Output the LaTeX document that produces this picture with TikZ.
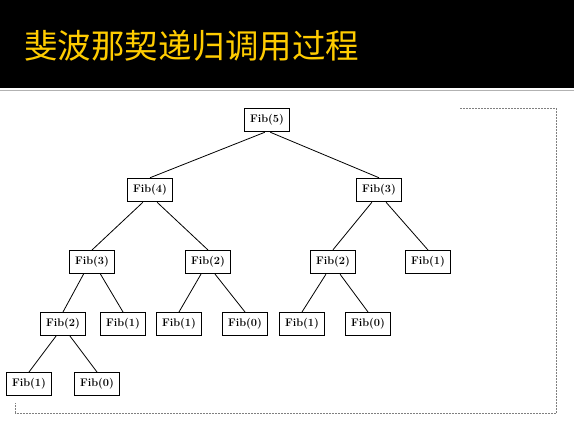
\documentclass[tikz,border=0pt]{standalone}
\usepackage{xcolor}
\usepackage{fontspec}
\usepackage{tikz}
\usetikzlibrary{positioning}
\newfontfamily\cjk{Noto Sans CJK SC}
\definecolor{titlegold}{RGB}{255,204,0}
\definecolor{framegray}{RGB}{128,128,128}

\begin{document}
\begin{tikzpicture}[x=1pt, y=-1pt,
  fib/.style={draw, line width=1pt, minimum width=45pt, minimum height=23pt, inner sep=1pt, font=\fontsize{11}{13}\selectfont\bfseries},
  top/.style={fib, line width=1.5pt},
  call/.style={line width=0.8pt}]
  \useasboundingbox (0,0) rectangle (574,425);
  \fill[black] (0,0) rectangle (574,88);
  \draw[color=gray!60, line width=1.5pt] (0,90.5) -- (574,90.5);
  \node[anchor=west, text=titlegold, inner sep=0pt] (title) at (24,46) {\cjk\fontsize{33.5}{40}\selectfont 斐波那契递归调用过程};
  \draw[color=framegray, dash pattern=on 2pt off 1pt, line width=0.8pt] (460,108.5) -- (556.5,108.5) -- (556.5,413) -- (15.5,413) -- (15.5,403);

  \node[top] (f5) at (267,120) {Fib(5)};
  \node[top] (f4) at (150,190) {Fib(4)};
  \node[top] (f3r) at (379,190) {Fib(3)};
  \node[fib] (f3) at (92,262) {Fib(3)};
  \node[fib] (f2) at (208,262) {Fib(2)};
  \node[top] (f2r) at (333,262) {Fib(2)};
  \node[fib] (f1r) at (428,262) {Fib(1)};
  \node[fib] (f2b) at (63,324) {Fib(2)};
  \node[fib] (f1b) at (123,324) {Fib(1)};
  \node[fib] (f1c) at (179,324) {Fib(1)};
  \node[fib] (f0c) at (245,324) {Fib(0)};
  \node[fib] (f1d) at (302,324) {Fib(1)};
  \node[fib] (f0d) at (368,324) {Fib(0)};
  \node[fib] (f1e) at (29,384) {Fib(1)};
  \node[fib] (f0e) at (97,384) {Fib(0)};

  \draw[call] (f5.-100) -- (f4.north);
  \draw[call] (f5.-75) -- (f3r.north);
  \draw[call] (f4.-120) -- (f3.north);
  \draw[call] (f4.-60) -- (f2.north);
  \draw[call] (f3r.-120) -- (f2r.north);
  \draw[call] (f3r.-60) -- (f1r.north);
  \draw[call] (f3.-125) -- (f2b.north);
  \draw[call] (f3.-55) -- (f1b.north);
  \draw[call] (f2.-120) -- (f1c.north);
  \draw[call] (f2.-60) -- (f0c.north);
  \draw[call] (f2r.-120) -- (f1d.north);
  \draw[call] (f2r.-60) -- (f0d.north);
  \draw[call] (f2b.-120) -- (f1e.north);
  \draw[call] (f2b.-60) -- (f0e.north);
\end{tikzpicture}
\end{document}
